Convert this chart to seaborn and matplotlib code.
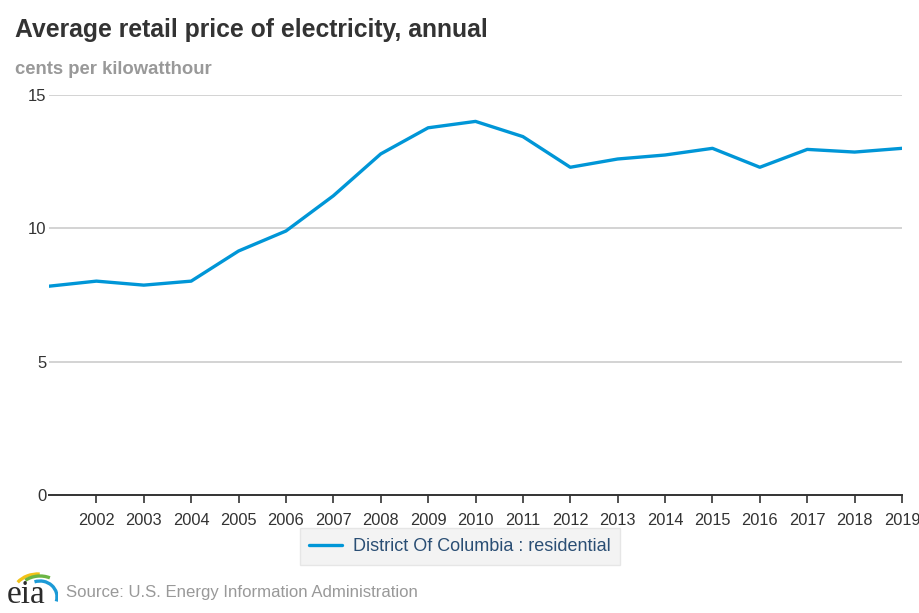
import numpy as np
import pandas as pd
import matplotlib
matplotlib.use("Agg")
import matplotlib.pyplot as plt
from matplotlib.patches import Arc
import seaborn as sns

# values
years = [2001, 2002, 2003, 2004, 2005, 2006, 2007, 2008, 2009, 2010,
         2011, 2012, 2013, 2014, 2015, 2016, 2017, 2018, 2019]
price = [7.83, 8.02, 7.87, 8.02, 9.15, 9.90, 11.22, 12.79, 13.77, 14.01,
         13.44, 12.29, 12.60, 12.75, 13.00, 12.29, 12.96, 12.86, 13.00]
series_name = "District Of Columbia : residential"
x_ticks = list(range(2002, 2020))
y_ticks = [0, 5, 10, 15]

df = pd.DataFrame({"year": years, "price": price, "series": series_name})

sns.set_theme(style="white")
plt.rcParams["font.family"] = ["Liberation Sans", "DejaVu Sans"]

W, H = 920, 613
fig = plt.figure(figsize=(W / 100, H / 100), dpi=100)
ax = fig.add_axes([49 / W, 1 - 495 / H, (902 - 49) / W, (495 - 95) / H])

sns.lineplot(data=df, x="year", y="price", hue="series",
             palette=["#0096d7"], linewidth=2.4, ax=ax, legend=False)

ax.set_xlim(2001, 2019)
ax.set_ylim(0, 15)
ax.set_xticks(x_ticks)
ax.set_xticklabels([str(y) for y in x_ticks])
ax.set_yticks(y_ticks)
ax.set_yticklabels([str(v) for v in y_ticks])
ax.set_xlabel("")
ax.set_ylabel("")

for v in y_ticks[1:]:
    ax.axhline(v, color="#c8c8c8", linewidth=1.1, zorder=0)

for s in ["top", "right", "left"]:
    ax.spines[s].set_visible(False)
ax.spines["bottom"].set_color("#333333")
ax.spines["bottom"].set_linewidth(1.4)
ax.tick_params(axis="x", colors="#333333", length=6, width=1.2,
               labelsize=11.8, pad=7, direction="out", bottom=True)
ax.tick_params(axis="y", colors="#333333", length=0, labelsize=12, pad=2)

# legend below the plot
handle = plt.Line2D([], [], color="#0096d7", linewidth=2.4)
leg = fig.legend([handle], [series_name], loc="center",
                 bbox_to_anchor=(0.5, 1 - 546.5 / H), frameon=True,
                 fancybox=False, fontsize=13, handlelength=1.8,
                 borderpad=0.55, handletextpad=0.6)
leg.get_frame().set_facecolor("#f0f0f0")
leg.get_frame().set_edgecolor("#e2e2e2")
for t in leg.get_texts():
    t.set_color("#2a4e74")

fig.text(15 / W, 1 - 30 / H, "Average retail price of electricity, annual",
         fontsize=17.8, fontweight="bold", color="#333333", va="center")
fig.text(15 / W, 1 - 69 / H, "cents per kilowatthour",
         fontsize=13.3, fontweight="bold", color="#999999", va="center")
fig.text(66 / W, 1 - 593 / H, "Source: U.S. Energy Information Administration",
         fontsize=12.1, color="#999999", va="center")

# small eia logo
lax = fig.add_axes([4 / W, 1 - 610 / H, 54 / W, 44 / H])
lax.set_xlim(0, 54)
lax.set_ylim(0, 44)
lax.axis("off")
lax.text(3, 0, "eia", fontsize=24, family=["Liberation Serif"],
         color="#2b2b2b", va="bottom", ha="left")
lax.add_patch(Arc((34, 16), 50, 40, theta1=85, theta2=150, color="#f2c318", lw=2.4))
lax.add_patch(Arc((36, 15), 46, 38, theta1=60, theta2=135, color="#6bb544", lw=2.4))
lax.add_patch(Arc((36, 13), 34, 32, theta1=-15, theta2=110, color="#1c9ad6", lw=2.4))

fig.savefig("out.png", dpi=100)
